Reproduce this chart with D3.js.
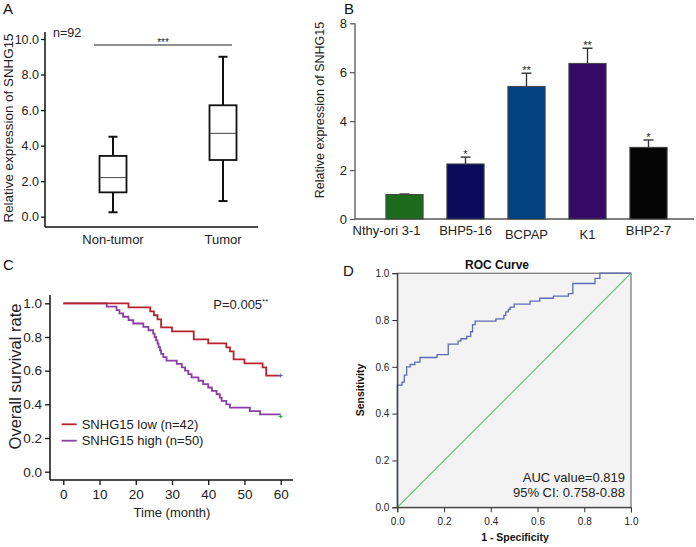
<!DOCTYPE html>
<html><head><meta charset="utf-8">
<script src="https://cdn.jsdelivr.net/npm/d3@7"></script>
<style>body{margin:0;background:#fff}svg{display:block;font-family:"Liberation Sans",Arial,sans-serif}</style>
</head><body><svg id="c" width="696" height="547"></svg>
<script>
// ---------- DATA ----------
// Panel A: box plot
const boxCategories = ["Non-tumor", "Tumor"];
const boxMin = [0.25, 0.88];
const boxQ1 = [1.37, 3.19];
const boxMedian = [2.2, 4.69];
const boxQ3 = [3.42, 6.27];
const boxMax = [4.5, 9.0];
const boxTicks = [0, 2, 4, 6, 8, 10];

// Panel B: bar chart
const cellLines = ["Nthy-ori 3-1", "BHP5-16", "BCPAP", "K1", "BHP2-7"];
const cellMeans = [1.0, 2.25, 5.42, 6.36, 2.93];
const cellErr = [0.02, 0.28, 0.54, 0.62, 0.30];
const cellSig = ["", "*", "**", "**", "*"];
const barTicks = [0, 2, 4, 6, 8];

// Panel C: Kaplan-Meier
const kmLowTime = [0, 18, 24, 25, 26, 27, 30, 36, 40, 45, 46, 47, 50, 55, 56, 60];
const kmLowSurv = [1, 0.976, 0.952, 0.929, 0.905, 0.857, 0.833, 0.786, 0.762, 0.738, 0.714, 0.667, 0.643, 0.619, 0.571, 0.571];
const kmHighTime = [0, 12, 14.7, 15.5, 16.5, 18, 19.3, 22.1, 23.5, 24.8, 25.2, 25.6, 26, 26.3, 26.7, 27, 27.6, 28.5, 31.3, 32.7, 33.6, 34.5, 35.4, 37.3, 38.6, 40, 41, 42.3, 43.2, 43.7, 45, 46, 51.5, 54.3, 60];
const kmHighSurv = [1, 0.98, 0.96, 0.94, 0.92, 0.90, 0.88, 0.86, 0.84, 0.82, 0.80, 0.78, 0.76, 0.74, 0.72, 0.70, 0.68, 0.66, 0.64, 0.62, 0.60, 0.58, 0.56, 0.54, 0.52, 0.50, 0.48, 0.46, 0.44, 0.42, 0.40, 0.38, 0.36, 0.34, 0.34];
const kmLegend = ["SNHG15 low (n=42)", "SNHG15 high (n=50)"];
const kmXTicks = [0, 10, 20, 30, 40, 50, 60];
const kmYTicks = [0, 0.2, 0.4, 0.6, 0.8, 1.0];

// Panel D: ROC
const rocFpr = [0, 0, 0.02, 0.03, 0.04, 0.055, 0.075, 0.097, 0.17, 0.218, 0.26, 0.272, 0.297, 0.314, 0.322, 0.333, 0.422, 0.456, 0.464, 0.475, 0.483, 0.5, 0.568, 0.61, 0.668, 0.732, 0.751, 0.846, 0.867, 1.0];
const rocTpr = [0, 0.522, 0.535, 0.565, 0.6, 0.61, 0.62, 0.64, 0.652, 0.697, 0.71, 0.72, 0.73, 0.75, 0.78, 0.795, 0.805, 0.82, 0.835, 0.845, 0.855, 0.868, 0.881, 0.893, 0.902, 0.913, 0.956, 0.978, 1.0, 1.0];
const rocTicks = [0, 0.2, 0.4, 0.6, 0.8, 1.0];

// ---------- STYLE ----------
const barColors = ["#1c6b1c", "#0b0b5e", "#034282", "#330b66", "#050505"];
const lowColor = "#b8222a", highColor = "#8a3fa3";

const svg = d3.select("#c");
const font = (sel, size, weight) => sel.style("font-size", size + "px").style("font-weight", weight || "normal");

function panelLabel(t, x, y) {
  font(svg.append("text").attr("x", x).attr("y", y).text(t).attr("fill", "#111"), 15);
}

// ================= Panel A =================
{
  const yA = d3.scaleLinear().domain([0, 10]).range([216.7, 39]);
  const xA = d3.scalePoint().domain(boxCategories).range([113, 223]);
  const g = svg.append("g");
  const ax = g.append("g").attr("transform", "translate(45,0)")
    .call(d3.axisLeft(yA).tickValues(boxTicks).tickFormat(d3.format(".1f")).tickSize(4).tickPadding(2));
  ax.select(".domain").remove();
  ax.selectAll("line").attr("stroke", "#111").attr("stroke-width", 1.3);
  font(ax.selectAll("text").attr("fill", "#222").style("font-family", "inherit"), 12.5);
  g.append("line").attr("x1", 45).attr("x2", 45).attr("y1", 32).attr("y2", 227).attr("stroke", "#111").attr("stroke-width", 1.5);
  g.append("line").attr("x1", 45).attr("x2", 258).attr("y1", 227).attr("y2", 227).attr("stroke", "#111").attr("stroke-width", 1.5);

  const hw = 13.5, cap = 4.5;
  boxCategories.forEach((c, i) => {
    const cx = xA(c);
    g.append("line").attr("x1", cx).attr("x2", cx).attr("y1", yA(boxQ3[i])).attr("y2", yA(boxMax[i])).attr("stroke", "#111").attr("stroke-width", 2);
    g.append("line").attr("x1", cx).attr("x2", cx).attr("y1", yA(boxQ1[i])).attr("y2", yA(boxMin[i])).attr("stroke", "#111").attr("stroke-width", 2);
    g.append("line").attr("x1", cx - cap).attr("x2", cx + cap).attr("y1", yA(boxMax[i])).attr("y2", yA(boxMax[i])).attr("stroke", "#111").attr("stroke-width", 2);
    g.append("line").attr("x1", cx - cap).attr("x2", cx + cap).attr("y1", yA(boxMin[i])).attr("y2", yA(boxMin[i])).attr("stroke", "#111").attr("stroke-width", 2);
    g.append("rect").attr("x", cx - hw).attr("width", 2 * hw).attr("y", yA(boxQ3[i])).attr("height", yA(boxQ1[i]) - yA(boxQ3[i]))
      .attr("fill", "#fff").attr("stroke", "#111").attr("stroke-width", 1.8);
    g.append("line").attr("x1", cx - hw).attr("x2", cx + hw).attr("y1", yA(boxMedian[i])).attr("y2", yA(boxMedian[i])).attr("stroke", "#444").attr("stroke-width", 1);
    font(g.append("text").attr("x", cx).attr("y", 244).attr("text-anchor", "middle").attr("fill", "#222").text(c), 13);
  });
  g.append("line").attr("x1", 94).attr("x2", 232).attr("y1", 45).attr("y2", 45).attr("stroke", "#222").attr("stroke-width", 1);
  font(g.append("text").attr("x", 163).attr("y", 46).attr("text-anchor", "middle").attr("fill", "#222").text("***"), 10);
  font(g.append("text").attr("x", 53).attr("y", 37).attr("fill", "#222").text("n=92"), 12.5);
  font(g.append("text").attr("transform", "translate(13,128) rotate(-90)").attr("text-anchor", "middle").attr("fill", "#222").text("Relative expression of SNHG15"), 13.4);
  panelLabel("A", 3, 14);
}

// ================= Panel B =================
{
  const yB = d3.scaleLinear().domain([0, 8]).range([219, 23.3]);
  const xB = d3.scaleBand().domain(cellLines).range([374, 679]).paddingInner(0.39).paddingOuter(0.195);
  const g = svg.append("g");
  const ax = g.append("g").attr("transform", "translate(355,0)")
    .call(d3.axisLeft(yB).tickValues(barTicks).tickSize(5).tickPadding(3));
  ax.select(".domain").remove();
  ax.selectAll("line").attr("stroke", "#555").attr("stroke-width", 1.2);
  font(ax.selectAll("text").attr("fill", "#222").style("font-family", "inherit"), 13);
  g.append("line").attr("x1", 355).attr("x2", 355).attr("y1", yB(8)).attr("y2", yB(0)).attr("stroke", "#555").attr("stroke-width", 1.3);
  g.append("line").attr("x1", 355).attr("x2", 694).attr("y1", yB(0)).attr("y2", yB(0)).attr("stroke", "#555").attr("stroke-width", 1.3);

  cellLines.forEach((c, i) => {
    const x0 = xB(c), bw = xB.bandwidth(), cx = x0 + bw / 2;
    const top = yB(cellMeans[i] + cellErr[i]);
    g.append("line").attr("x1", cx).attr("x2", cx).attr("y1", yB(cellMeans[i])).attr("y2", top).attr("stroke", "#333").attr("stroke-width", 1.4);
    g.append("line").attr("x1", cx - 5).attr("x2", cx + 5).attr("y1", top).attr("y2", top).attr("stroke", "#333").attr("stroke-width", 1.4);
    g.append("rect").attr("x", x0).attr("width", bw).attr("y", yB(cellMeans[i])).attr("height", yB(0) - yB(cellMeans[i]))
      .attr("fill", barColors[i]).attr("stroke", "#444").attr("stroke-width", 1);
    if (cellSig[i]) font(g.append("text").attr("x", cx).attr("y", top + 1).attr("text-anchor", "middle").attr("fill", "#222").text(cellSig[i]), 11);
    const dx = i === 0 ? -18 : 0, dy = (i === 2 || i === 3) ? 4 : 0;
    font(g.append("text").attr("x", cx + dx).attr("y", 235 + dy).attr("text-anchor", "middle").attr("fill", "#222").text(c), 13);
  });
  font(g.append("text").attr("transform", "translate(324,110) rotate(-90)").attr("text-anchor", "middle").attr("fill", "#222").text("Relative expression of SNHG15"), 12.5);
  panelLabel("B", 344, 14);
}

// ================= Panel C =================
{
  const xC = d3.scaleLinear().domain([0, 60]).range([63.3, 280.7]);
  const yC = d3.scaleLinear().domain([0, 1]).range([471.7, 303.3]);
  const g = svg.append("g");
  const ay = g.append("g").attr("transform", "translate(50,0)")
    .call(d3.axisLeft(yC).tickValues(kmYTicks).tickFormat(d3.format(".1f")).tickSize(5).tickPadding(3));
  ay.select(".domain").remove();
  ay.selectAll("line").attr("stroke", "#111").attr("stroke-width", 1.3);
  font(ay.selectAll("text").attr("fill", "#222").style("font-family", "inherit"), 13.5);
  const axx = g.append("g").attr("transform", "translate(0,480)")
    .call(d3.axisBottom(xC).tickValues(kmXTicks).tickSize(5).tickPadding(4));
  axx.select(".domain").remove();
  axx.selectAll("line").attr("stroke", "#111").attr("stroke-width", 1.3);
  font(axx.selectAll("text").attr("fill", "#222").style("font-family", "inherit"), 13.5);
  g.append("line").attr("x1", 50).attr("x2", 50).attr("y1", 295).attr("y2", 480).attr("stroke", "#111").attr("stroke-width", 1.5);
  g.append("line").attr("x1", 50).attr("x2", 293).attr("y1", 480).attr("y2", 480).attr("stroke", "#111").attr("stroke-width", 1.5);

  const line = d3.line().x(d => xC(d[0])).y(d => yC(d[1])).curve(d3.curveStepAfter);
  const high = kmHighTime.map((t, i) => [t, kmHighSurv[i]]);
  const low = kmLowTime.map((t, i) => [t, kmLowSurv[i]]);
  g.append("path").attr("d", line(high)).attr("fill", "none").attr("stroke", highColor).attr("stroke-width", 1.8);
  g.append("path").attr("d", line(low)).attr("fill", "none").attr("stroke", lowColor).attr("stroke-width", 1.8);
  // censor marks
  const cm = (t, v, col, dy) => {
    const x = xC(t), y = yC(v) + dy;
    g.append("path").attr("d", `M${x - 2},${y}H${x + 2}M${x},${y - 2}V${y + 2}`).attr("stroke", col).attr("stroke-width", 1);
  };
  cm(60, kmLowSurv[kmLowSurv.length - 1], "#4060d0", 0);
  cm(60, kmHighSurv[kmHighSurv.length - 1], "#30a040", 2);

  [lowColor, highColor].forEach((col, i) => {
    const y = 424.3 + i * 16.4;
    g.append("line").attr("x1", 61.7).attr("x2", 76.7).attr("y1", y).attr("y2", y).attr("stroke", col).attr("stroke-width", 1.8);
    font(g.append("text").attr("x", 81.7).attr("y", y + 4.7).attr("fill", "#222").text(kmLegend[i]), 13);
  });
  const p = g.append("text").attr("x", 213.3).attr("y", 308.5).attr("fill", "#222");
  font(p, 13);
  p.append("tspan").text("P=0.005");
  p.append("tspan").attr("dy", -5).style("font-size", "8px").text("**");
  font(g.append("text").attr("x", xC(30)).attr("y", 517).attr("text-anchor", "middle").attr("fill", "#222").text("Time (month)"), 13);
  font(g.append("text").attr("transform", "translate(20.5,376.5) rotate(-90)").attr("text-anchor", "middle").attr("fill", "#222").text("Overall survival rate"), 16.5);
  panelLabel("C", 3, 270);
}

// ================= Panel D =================
{
  const xD = d3.scaleLinear().domain([0, 1]).range([397.3, 631]);
  const yD = d3.scaleLinear().domain([0, 1]).range([507.3, 273.2]);
  const g = svg.append("g");
  g.append("rect").attr("x", xD(0)).attr("y", yD(1)).attr("width", xD(1) - xD(0)).attr("height", yD(0) - yD(1))
    .attr("fill", "#f3f3f3").attr("stroke", "#555").attr("stroke-width", 1);
  g.append("line").attr("x1", xD(0)).attr("y1", yD(0)).attr("x2", xD(1)).attr("y2", yD(1)).attr("stroke", "#5cbf6a").attr("stroke-width", 1.1);
  const line = d3.line().x(d => xD(d[0])).y(d => yD(d[1])).curve(d3.curveStepAfter);
  g.append("path").attr("d", line(rocFpr.map((f, i) => [f, rocTpr[i]]))).attr("fill", "none").attr("stroke", "#5c6cb0").attr("stroke-width", 1.3);

  const ay = g.append("g").attr("transform", `translate(${xD(0)},0)`)
    .call(d3.axisLeft(yD).tickValues(rocTicks).tickFormat(d3.format(".1f")).tickSize(5).tickPadding(3));
  ay.select(".domain").attr("stroke", "#333");
  ay.selectAll("line").attr("stroke", "#333");
  font(ay.selectAll("text").attr("fill", "#222").style("font-family", "inherit"), 10);
  const ax = g.append("g").attr("transform", `translate(0,${yD(0)})`)
    .call(d3.axisBottom(xD).tickValues(rocTicks).tickFormat(d3.format(".1f")).tickSize(5).tickPadding(6));
  ax.select(".domain").attr("stroke", "#333");
  ax.selectAll("line").attr("stroke", "#333");
  font(ax.selectAll("text").attr("fill", "#222").style("font-family", "inherit"), 10);

  font(g.append("text").attr("x", 497).attr("y", 269).attr("text-anchor", "middle").attr("fill", "#111").text("ROC Curve"), 12, "bold");
  font(g.append("text").attr("x", 515).attr("y", 541).attr("text-anchor", "middle").attr("fill", "#111").text("1 - Specificity"), 10.5, "bold");
  font(g.append("text").attr("transform", "translate(364,390) rotate(-90)").attr("text-anchor", "middle").attr("fill", "#111").text("Sensitivity"), 10.5, "bold");
  font(g.append("text").attr("x", 625).attr("y", 482).attr("text-anchor", "end").attr("fill", "#222").text("AUC value=0.819"), 13);
  font(g.append("text").attr("x", 625).attr("y", 497).attr("text-anchor", "end").attr("fill", "#222").text("95% CI: 0.758-0.88"), 13);
  panelLabel("D", 343, 276);
}
</script></body></html>
